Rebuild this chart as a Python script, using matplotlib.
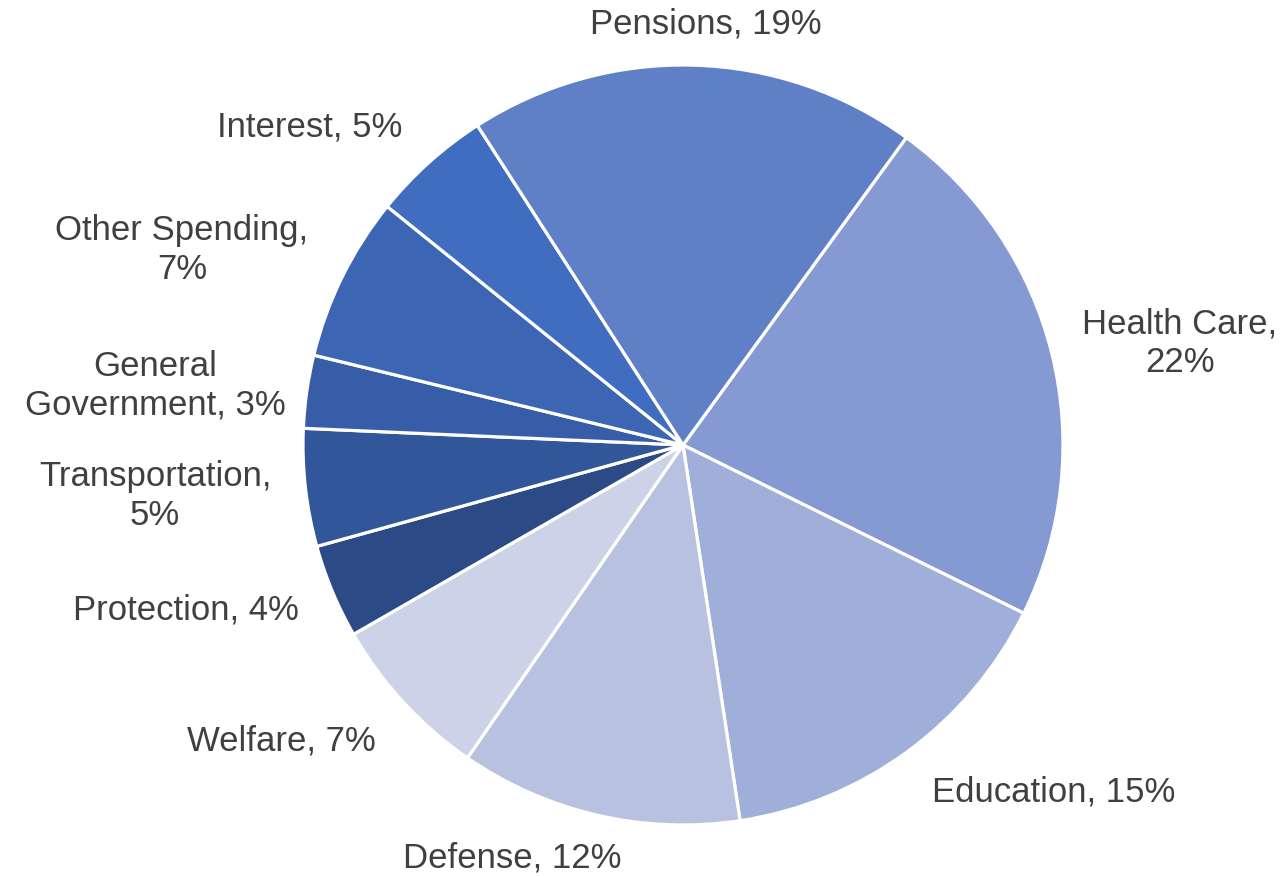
import matplotlib
matplotlib.use("Agg")
import matplotlib.pyplot as plt

# Data (clockwise, starting with Health Care)
categories = ["Health Care", "Education", "Defense", "Welfare", "Protection",
              "Transportation", "General Government", "Other Spending",
              "Interest", "Pensions"]
values = [22.3, 15.3, 12.0, 7.1, 4.0, 5.0, 3.1, 7.0, 5.1, 19.1]
label_texts = ["Health Care,\n22%", "Education, 15%", "Defense, 12%",
               "Welfare, 7%", "Protection, 4%", "Transportation,\n5%",
               "General\nGovernment, 3%", "Other Spending,\n7%",
               "Interest, 5%", "Pensions, 19%"]

colors = ["#8599D3", "#A0AEDA", "#B8C1E0", "#CCD2E7", "#2C4A85",
          "#32569A", "#375DA8", "#3C65B3", "#416DC1", "#5F7FC7"]

# label centre positions in pixels (x, y from top)
label_px = [(1180, 343), (1054, 792), (512, 858), (281, 741), (186, 610),
            (155, 496), (155, 386), (182, 250), (310, 127), (706, 24)]

W, H = 1281, 876
cx, cy, R = 683, 445, 380

fig = plt.figure(figsize=(W / 100, H / 100), dpi=100)
ax = fig.add_axes([(cx - R) / W, (H - cy - R) / H, 2 * R / W, 2 * R / H])
ax.pie(values, colors=colors, startangle=54, counterclock=False, radius=1,
       wedgeprops=dict(edgecolor="white", linewidth=2.3))
ax.set_xlim(-1, 1)
ax.set_ylim(-1, 1)
ax.set_aspect("equal")
ax.axis("off")

for txt, (px, py) in zip(label_texts, label_px):
    x = (px - cx) / R
    y = (cy - py) / R
    ax.text(x, y, txt, ha="center", va="center", fontsize=25,
            family="Liberation Sans", color="#404040", linespacing=1.2,
            clip_on=False)

fig.savefig("out.png", dpi=100)
